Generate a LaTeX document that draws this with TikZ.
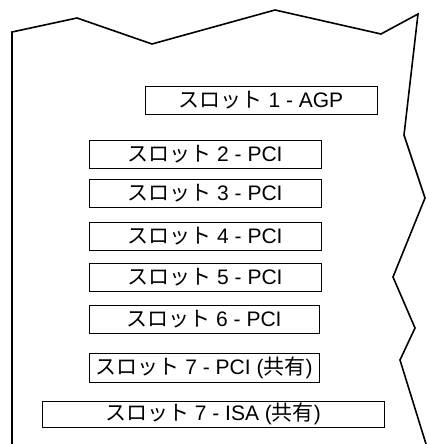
\documentclass[tikz,border=0pt]{standalone}
\usepackage{fontspec}
\setmainfont{Liberation Sans}
\newfontfamily\jp{Noto Sans CJK JP}
\newcommand{\slotname}[1]{{\jp スロット} #1}
\tikzset{
  slotbox/.style={draw, line width=0.7pt, minimum height=28pt, inner sep=0pt, font=\fontsize{21}{23}\selectfont},
  edge/.style={line width=1.6pt, line join=miter}
}
\begin{document}
\begin{tikzpicture}[x=1pt, y=-1pt]
  \useasboundingbox (0, 0) rectangle (427, 444);
  % torn outline of the board
  \draw[edge] (12, 444) -- (12, 32) -- (77, 18) -- (152, 44) -- (275, 10) -- (381, 34)
    -- (418, 14) -- (404, 135) -- (425, 198) -- (393, 277) -- (415, 328) -- (400, 360) -- (426, 444);
  % slots
  \node[slotbox, minimum width=232pt] (agp) at (261, 100) {\slotname{1 - AGP}};
  \node[slotbox, minimum width=232pt] (pcitwo) at (205, 154) {\slotname{2 - PCI}};
  \node[slotbox, minimum width=232pt] (pcithree) at (205, 193.5) {\slotname{3 - PCI}};
  \node[slotbox, minimum width=232pt] (pcifour) at (205, 236) {\slotname{4 - PCI}};
  \node[slotbox, minimum width=232pt] (pcifive) at (205, 277.5) {\slotname{5 - PCI}};
  \node[slotbox, minimum width=230pt] (pcisix) at (204, 319) {\slotname{6 - PCI}};
  \node[slotbox, minimum width=230pt, minimum height=29pt] (pciseven) at (204, 367.5) {\slotname{7 - PCI ({\jp 共有})}};
  \node[slotbox, minimum width=342pt, minimum height=26pt] (isaseven) at (213, 414) {\slotname{7 - ISA ({\jp 共有})}\hspace{16pt}};
\end{tikzpicture}
\end{document}
